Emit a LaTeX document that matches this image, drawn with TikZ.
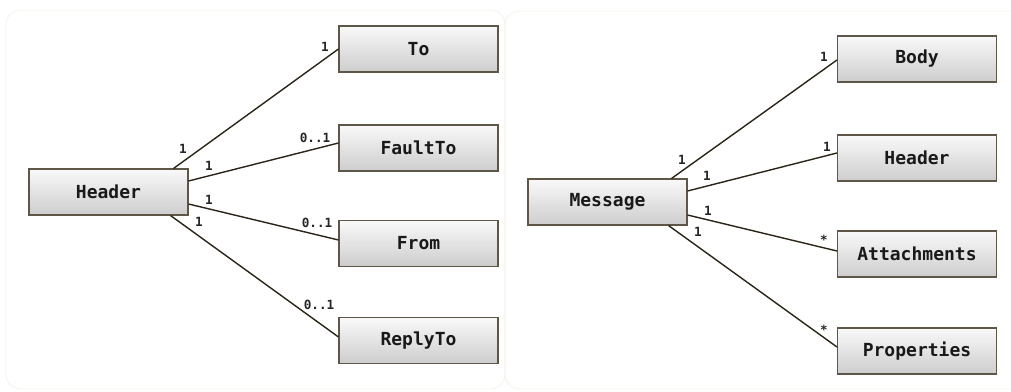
\documentclass[tikz,border=0pt]{standalone}
\usepackage{fontspec}
\newfontfamily\monofont{DejaVu Sans Mono}
\usetikzlibrary{calc}

\definecolor{panelline}{HTML}{F6F4EC}
\definecolor{boxline}{HTML}{5E5646}
\definecolor{linkline}{HTML}{2B2418}
\definecolor{boxtop}{HTML}{F9F9F9}
\definecolor{boxbottom}{HTML}{CDCDCD}

\tikzset{
  panel/.style={draw=panelline, line width=0.7pt, rounded corners=11pt},
  classbox/.style={draw=boxline, line width=0.8pt, top color=boxtop, bottom color=boxbottom,
    minimum width=119.25pt, minimum height=34.5pt, inner sep=0pt,
    font=\monofont\bfseries\fontsize{13.5}{16}\selectfont, text=black!90},
  link/.style={draw=linkline, line width=1.05pt},
  mult/.style={font=\monofont\bfseries\fontsize{9.5}{11}\selectfont, text=black!85, inner sep=0pt}
}

\begin{document}
\begin{tikzpicture}[x=0.75pt, y=-0.75pt]
  \clip (0,0) rectangle (1011,392);
  \fill[white] (0,0) rectangle (1011,392);

  % two framing panels
  \draw[panel] (6,10) rectangle (505,389);
  \draw[panel] (505,11) rectangle (1030,389);

  % ---- Header composition ----
  \node[classbox] (hdr)  at (108.5,192)   {Header};
  \node[classbox] (to)   at (418.5,49)    {To};
  \node[classbox] (fault) at (418.5,148)  {FaultTo};
  \node[classbox] (from) at (418.5,243.5) {From};
  \node[classbox] (reply) at (418.5,340.5) {ReplyTo};

  \draw[link] ($(hdr.north east)+(-15,0)$) -- (to.west);
  \draw[link] ($(hdr.east)+(0,-11)$) -- ($(fault.west)+(0,-5)$);
  \draw[link] ($(hdr.east)+(0,12)$) -- ($(from.west)+(0,-3.5)$);
  \draw[link] ($(hdr.south east)+(-18,0)$) -- ($(reply.west)+(0,-3.5)$);

  \node[mult] (m1) at (325,47)  {1};
  \node[mult] (m2) at (183,149) {1};
  \node[mult] (m3) at (315,138) {0..1};
  \node[mult] (m4) at (209,166) {1};
  \node[mult] (m5) at (209,200) {1};
  \node[mult] (m6) at (317,223) {0..1};
  \node[mult] (m7) at (199,222) {1};
  \node[mult] (m8) at (319,305) {0..1};

  % ---- Message composition ----
  \node[classbox] (msg)  at (607.5,202) {Message};
  \node[classbox] (body) at (917,59)    {Body};
  \node[classbox] (mhdr) at (917,158)   {Header};
  \node[classbox] (att)  at (917,254)   {Attachments};
  \node[classbox] (prop) at (917,351)   {Properties};

  \draw[link] ($(msg.north east)+(-16,0)$) -- ($(body.west)+(0,1)$);
  \draw[link] ($(msg.east)+(0,-11)$) -- ($(mhdr.west)+(0,-5)$);
  \draw[link] ($(msg.east)+(0,13)$) -- ($(att.west)+(0,-3)$);
  \draw[link] ($(msg.south east)+(-19,0)$) -- ($(prop.west)+(0,-4)$);

  \node[mult] (n1) at (824,57)  {1};
  \node[mult] (n2) at (682,160) {1};
  \node[mult] (n3) at (827,147) {1};
  \node[mult] (n4) at (707,176) {1};
  \node[mult] (n5) at (708,211) {1};
  \node[mult] (n6) at (824,240) {*};
  \node[mult] (n7) at (698,232) {1};
  \node[mult] (n8) at (824,330) {*};
\end{tikzpicture}
\end{document}
